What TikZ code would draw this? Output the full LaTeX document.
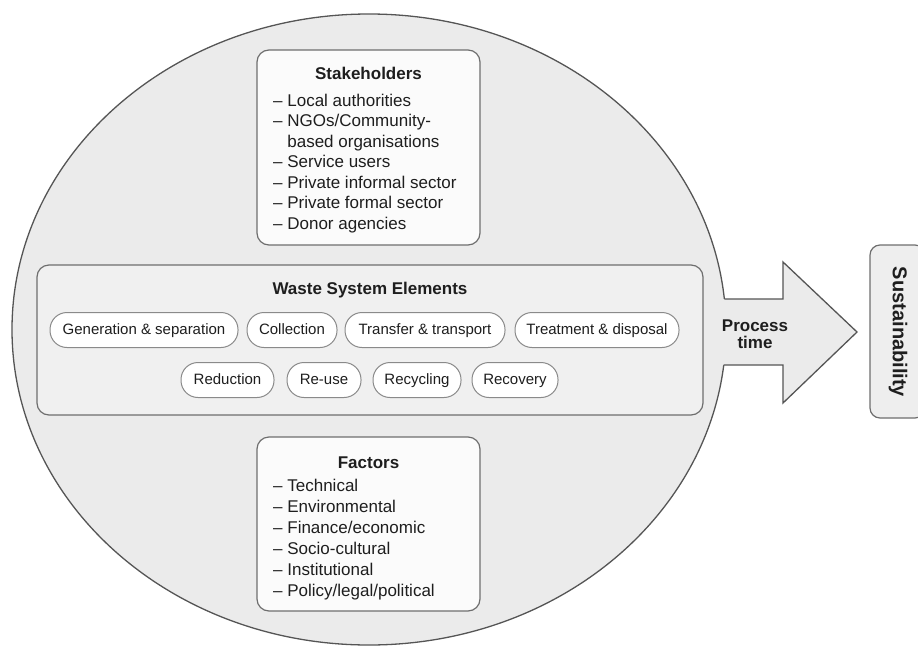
\documentclass[tikz,border=0pt]{standalone}
\usepackage{fontspec}
\setmainfont{Liberation Sans}
\usetikzlibrary{shapes.geometric}
\definecolor{ellfill}{HTML}{EBEBEB}
\definecolor{wsefill}{HTML}{F0F0F0}
\definecolor{boxfill}{HTML}{FBFBFB}
\definecolor{sustfill}{HTML}{EEEEEE}
\definecolor{edge}{HTML}{555555}
\definecolor{boxedge}{HTML}{6E6E6E}
\definecolor{pilledge}{HTML}{8A8A8A}
\definecolor{txt}{HTML}{1E1E1E}
\begin{document}
\begin{tikzpicture}[x=1pt,y=-1pt,
  bigbox/.style={draw=boxedge, line width=1.2pt, rounded corners=12pt, inner sep=0pt},
  pill/.style={draw=pilledge, fill=white, line width=1pt, rounded corners=17pt,
    minimum height=35pt, inner sep=0pt, text height=11pt, text depth=3pt,
    font=\fontsize{15}{18}\selectfont, text=txt},
  title/.style={anchor=base, inner sep=0pt, font=\fontsize{17}{20}\selectfont\bfseries, text=txt},
  item/.style={anchor=base west, inner sep=0pt, font=\fontsize{17}{20}\selectfont, text=txt}]
\useasboundingbox (0,0) rectangle (918,648);
\clip (0,0) rectangle (918,648);

% big ellipse
\node[ellipse, draw=edge, fill=ellfill, line width=1.3pt, minimum width=714pt,
      minimum height=631pt, inner sep=0pt] (world) at (369,329.5) {};

% process arrow
\fill[ellfill] (700,299) -- (783,299) -- (783,262) -- (857,332) -- (783,403)
  -- (783,365) -- (700,365) -- cycle;
\draw[edge, line width=1.3pt, line join=miter] (724.3,299) -- (783,299) -- (783,262)
  -- (857,332) -- (783,403) -- (783,365) -- (723.7,365);
\node[anchor=base, inner sep=0pt, align=center, text=txt,
      font=\fontsize{17}{17}\selectfont\bfseries] (ptime) at (755,348) {Process\\time};

% Stakeholders
\node[bigbox, fill=boxfill, minimum width=223pt, minimum height=195pt] (stake) at (368.5,147.5) {};
\node[title] (staket) at (368.5,79) {Stakeholders};
\foreach \t [count=\i] in {{– Local authorities},{– NGOs/Community-},
   {\phantom{– }based organisations},{– Service users},{– Private informal sector},
   {– Private formal sector},{– Donor agencies}}
  \node[item] (s\i) at (273,{106+20.5*(\i-1)}) {\t};

% Waste system elements
\node[bigbox, fill=wsefill, minimum width=666pt, minimum height=150pt] (wse) at (370,340) {};
\node[title] (wset) at (370,294) {Waste System Elements};
\node[pill, minimum width=188pt] (gen) at (144,330) {Generation \& separation};
\node[pill, minimum width=90pt] (col) at (292,330) {Collection};
\node[pill, minimum width=160pt] (tra) at (425,330) {Transfer \& transport};
\node[pill, minimum width=164pt] (tre) at (597,330) {Treatment \& disposal};
\node[pill, minimum width=93pt] (red) at (227.5,380) {Reduction};
\node[pill, minimum width=74pt] (reu) at (324,380) {Re-use};
\node[pill, minimum width=88pt] (rec) at (417,380) {Recycling};
\node[pill, minimum width=86pt] (rcv) at (515,380) {Recovery};

% Factors
\node[bigbox, fill=boxfill, minimum width=223pt, minimum height=174pt] (fact) at (368.5,524) {};
\node[title] (factt) at (368.5,468) {Factors};
\foreach \t [count=\i] in {{– Technical},{– Environmental},{– Finance/economic},
   {– Socio-cultural},{– Institutional},{– Policy/legal/political}}
  \node[item] (f\i) at (273,{491+21*(\i-1)}) {\t};

% Sustainability
\node[draw=boxedge, fill=sustfill, line width=1.2pt, rounded corners=10pt,
      minimum width=55pt, minimum height=173pt, inner sep=0pt] (sust) at (897.5,331.5) {};
\node[rotate=-90, inner sep=0pt, text=txt, font=\fontsize{20}{20}\selectfont\bfseries]
      (sustt) at (898,332) {Sustainability};
\end{tikzpicture}
\end{document}
